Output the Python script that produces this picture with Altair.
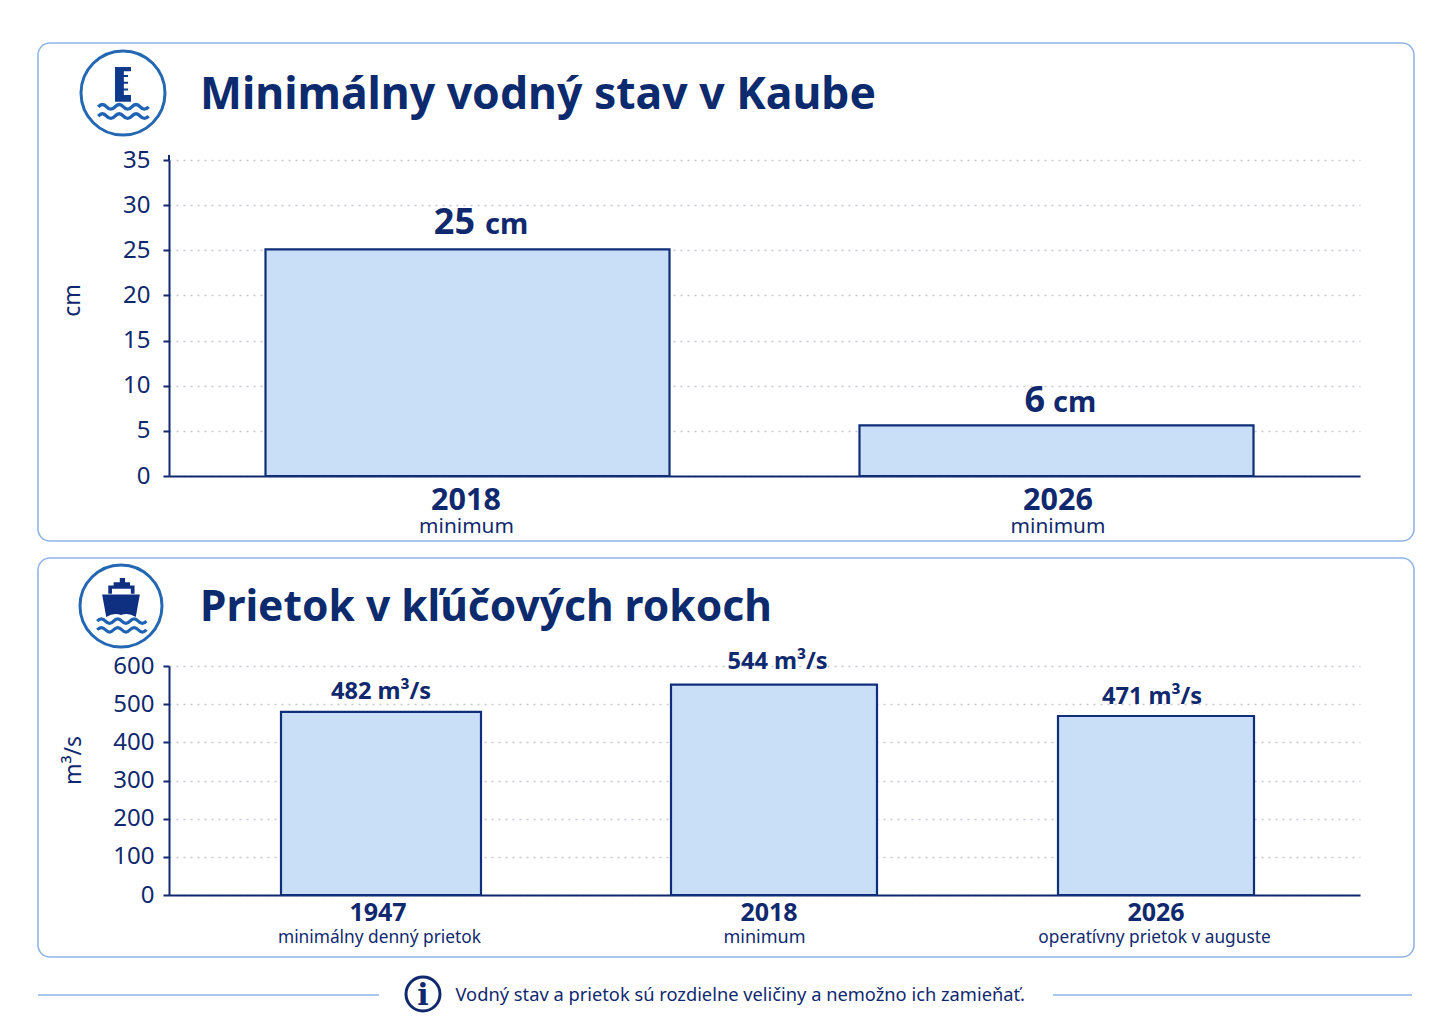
import altair as alt
import pandas as pd

# ---- chart values ----
level_years = ["2018", "2026"]
level_notes = ["minimum", "minimum"]
level_values = [25.1, 5.6]
level_labels = ["25", "6"]

flow_years = ["1947", "2018", "2026"]
flow_notes = ["minimálny denný prietok", "minimum", "operatívny prietok v auguste"]
flow_values = [480, 551, 469]
flow_labels = ["482 m³/s", "544 m³/s", "471 m³/s"]

level_ticks = [0, 5, 10, 15, 20, 25, 30, 35]
flow_ticks = [0, 100, 200, 300, 400, 500, 600]

# ---- styling ----
NAVY = "#10296e"
BLUE = "#2468b4"
CARD = "#8fb5e9"
FILL = "#c9dff8"
FONT = "Noto Sans"
W = 1191
H1, H2 = 316, 229
O1 = (169, 160)
O2 = (169, 666)

RULER = ("M-.19 -.62H.19V-.52H.02V-.43H.12V-.38H.02V-.27H.12V-.22H.02V-.11H.12V-.06H.02V.05H.19V.21H-.19Z")
WAVE_PART = "q.1 -.11 .2 0q.1 .11 .2 0q.1 -.11 .2 0q.1 .11 .2 0q.1 -.11 .2 0q.1 .11 .2 0"
WAVE = "M-.59 .33" + WAVE_PART + "M-.59 .55" + WAVE_PART
WAVE2 = "M-.58 .37" + WAVE_PART + "M-.58 .58" + WAVE_PART
HULL = ("M-.46 -.28H.46L.36 .27Q.18 .15 0 .22Q-.18 .15 -.36 .27Z"
        "M-.31 -.3V-.5H.33V-.3H.24V-.42H-.22V-.3Z"
        "M-.18 -.5V-.58H.22V-.5Z M-.03 -.58V-.68H.1V-.58Z")

ONE = alt.Data(values=[{"a": 1}])


def card(o, x0, x1, y0, y1):
    return alt.Chart(ONE).mark_rect(filled=False, stroke=CARD, strokeWidth=1.6, cornerRadius=12).encode(
        x=alt.value(x0 - o[0]), x2=alt.value(x1 - o[0]), y=alt.value(y0 - o[1]), y2=alt.value(y1 - o[1]))


def note(o, px, py, text, size, weight="normal", align="left", color=NAVY, font=FONT):
    return alt.Chart(ONE).mark_text(text=text, fontSize=size, fontWeight=weight, align=align,
                                    baseline="alphabetic", color=color, font=font).encode(
        x=alt.value(px - o[0]), y=alt.value(py - o[1]))


def glyph(o, px, py, d, shape, fill=None, stroke=None, width=3):
    kw = dict(shape=shape, opacity=1)
    if fill:
        kw.update(filled=True, fill=fill, strokeWidth=0)
    else:
        kw.update(filled=False, stroke=stroke, strokeWidth=width)
    return alt.Chart(ONE).mark_point(**kw).encode(
        x=alt.value(px - o[0]), y=alt.value(py - o[1]), size=alt.value(d * d))


def panel(df, o, height, dom, ticks, y_title, title_xy, label_pad, bars, year_style, note_style):
    n = len(df)
    x = alt.X("year:N", sort=list(df["year"]), axis=alt.Axis(
        title=None, labels=False, ticks=False, domainColor=NAVY, domainWidth=2, grid=False),
        scale=alt.Scale(paddingInner=0, paddingOuter=0))
    y = alt.Y("value:Q", scale=alt.Scale(domain=dom, nice=False), axis=alt.Axis(
        values=ticks, title=y_title, titleFont=FONT, titleFontSize=23, titleFontWeight="normal",
        titleColor=NAVY, titleX=title_xy[0], titleY=title_xy[1], labelFont=FONT, labelFontSize=24,
        labelColor=NAVY, labelPadding=label_pad, tickColor=NAVY, tickSize=6, tickWidth=2,
        domainColor=NAVY, domainWidth=2, grid=True, gridColor="#c4c9d2", gridDash=[2, 5], gridWidth=1.3))
    base = alt.Chart(df).encode(x=x)
    layers = [base.mark_bar(opacity=0).encode(y=y)]
    for i, yr in enumerate(df["year"]):
        cx, bw = bars[i]
        off = cx - (o[0] + (i + 0.5) * W / n)
        sub = base.transform_filter(alt.datum.year == yr)
        layers.append(sub.mark_bar(size=bw, xOffset=off, fill=FILL, stroke="#0f2f7a", strokeWidth=2.2).encode(y=y))
        yr_x, yr_y, yr_s = year_style[i]
        layers.append(sub.mark_text(font=FONT, fontSize=yr_s, fontWeight="bold", color=NAVY, baseline="alphabetic",
                                    dx=yr_x - (o[0] + (i + 0.5) * W / n)).encode(
            text="year:N", y=alt.value(yr_y - o[1])))
        nx, ny, ns = note_style[i]
        layers.append(sub.mark_text(font=FONT, fontSize=ns, color=NAVY, baseline="alphabetic",
                                    dx=nx - (o[0] + (i + 0.5) * W / n)).encode(
            text="note:N", y=alt.value(ny - o[1])))
    return base, layers, y, x


# ---- top panel ----
df1 = pd.DataFrame({"year": level_years, "note": level_notes, "value": level_values, "label": level_labels})
base1, lay1, y1, x1 = panel(
    df1, O1, H1, [0, 35], level_ticks, "cm", (-85, 140), 13,
    bars=[(467.5, 404), (1056.5, 394)],
    year_style=[(466, 510, 30.5), (1058, 510, 30.5)],
    note_style=[(466.5, 533, 20.8), (1058, 533, 20.8)])
centres1 = [(0.5) * W / 2, 1.5 * W / 2]
for i, yr in enumerate(level_years):
    sub = base1.transform_filter(alt.datum.year == yr)
    num_right = [475, 1045][i] - O1[0] - centres1[i]
    unit_left = [485, 1053][i] - O1[0] - centres1[i]
    lift = [234, 412][i]
    lay1.append(sub.mark_text(font=FONT, fontSize=36, fontWeight="bold", color=NAVY, align="right",
                              baseline="alphabetic", dx=num_right).encode(text="label:N", y=alt.value(lift - O1[1])))
    lay1.append(sub.mark_text(font=FONT, fontSize=29, fontWeight="bold", color=NAVY, align="left", text="cm",
                              baseline="alphabetic", dx=unit_left).encode(y=alt.value(lift - O1[1])))
deco1 = [
    card(O1, 38, 1414, 43, 541),
    glyph(O1, 123, 93, 84, "circle", stroke=BLUE, width=3),
    glyph(O1, 123, 93, 84, RULER, fill="#0f3a8c"),
    glyph(O1, 123, 93, 84, WAVE, stroke="#1f63b4", width=3.4),
    note(O1, 200, 109, "Minimálny vodný stav v Kaube", 44.5, "bold", color="#0c2a6e"),
    alt.Chart(ONE).mark_rule(color=NAVY, strokeWidth=2).encode(
        x=alt.value(0), y=alt.value(-5), y2=alt.value(0)),
]
top = alt.layer(*deco1, *lay1).properties(width=W, height=H1)

# ---- bottom panel ----
df2 = pd.DataFrame({"year": flow_years, "note": flow_notes, "value": flow_values, "label": flow_labels})
base2, lay2, y2, x2 = panel(
    df2, O2, H2, [0, 600], flow_ticks, "m³/s", (-95 + 11, 94), 9,
    bars=[(381, 200), (774, 206), (1156, 196)],
    year_style=[(378, 921, 25), (769, 921, 25), (1156, 921, 25)],
    note_style=[(379.5, 943, 17.3), (764.5, 943, 18), (1154.5, 943, 17.3)])
for i, yr in enumerate(flow_years):
    sub = base2.transform_filter(alt.datum.year == yr)
    c = O2[0] + (i + 0.5) * W / 3
    lay2.append(sub.mark_text(font=FONT, fontSize=23.6, fontWeight="bold", color=NAVY, baseline="alphabetic",
                              dx=[381, 777.5, 1152][i] - c).encode(
        text="label:N", y=alt.value([699, 669, 704][i] - O2[1])))
deco2 = [
    card(O2, 38, 1414, 558, 957),
    glyph(O2, 121, 606, 82, "circle", stroke=BLUE, width=3),
    glyph(O2, 121, 606, 82, HULL, fill="#0f2f80"),
    glyph(O2, 121, 606, 82, WAVE2, stroke="#1f63b4", width=3.2),
    note(O2, 200, 621, "Prietok v kľúčových rokoch", 42.5, "bold", color="#0c2a6e"),
    alt.Chart(ONE).mark_rule(color=CARD, strokeWidth=1.6).encode(
        x=alt.value(38 - O2[0]), x2=alt.value(379 - O2[0]), y=alt.value(995 - O2[1])),
    alt.Chart(ONE).mark_rule(color=CARD, strokeWidth=1.6).encode(
        x=alt.value(1053 - O2[0]), x2=alt.value(1412 - O2[0]), y=alt.value(995 - O2[1])),
    glyph(O2, 423, 994, 34, "circle", stroke=NAVY, width=3),
    note(O2, 423, 1005, "i", 30, "bold", align="center", font="DejaVu Serif"),
    note(O2, 455.5, 1001, "Vodný stav a prietok sú rozdielne veličiny a nemožno ich zamieňať.", 18.3),
]
bottom = alt.layer(*deco2, *lay2).properties(width=W, height=H2)

chart = alt.vconcat(top, bottom, spacing=15).resolve_scale(y="independent", x="independent").properties(
    padding={"left": 29, "top": 34, "right": 0, "bottom": 0}, background="white"
).configure_view(stroke=None)

chart.save("out.html", embed_options={"renderer": "svg", "actions": False})
